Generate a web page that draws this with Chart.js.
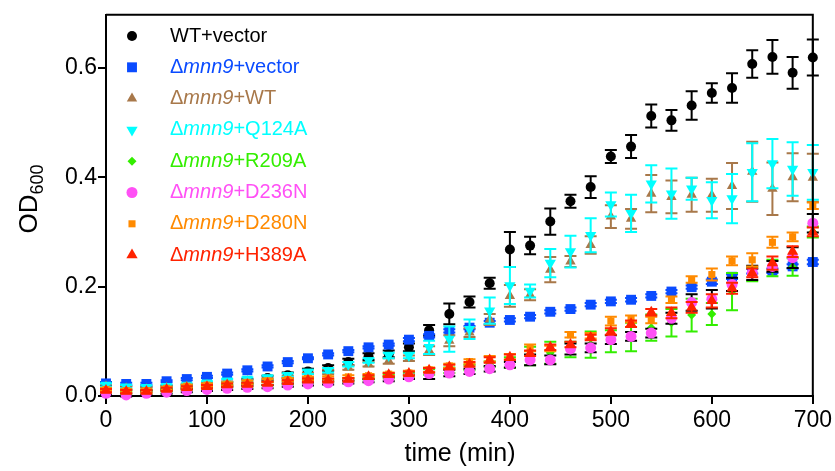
<!DOCTYPE html>
<html><head><meta charset="utf-8">
<script src="https://cdn.jsdelivr.net/npm/chart.js@4/dist/chart.umd.min.js"></script>
<style>html,body{margin:0;padding:0;background:#fff;}#wrap{width:835px;height:471px;position:relative}</style>
</head><body><div id="wrap"><canvas id="c" width="835" height="471"></canvas></div>
<script>
const timeMin = [0,20,40,60,80,100,120,140,160,180,200,220,240,260,280,300,320,340,360,380,400,420,440,460,480,500,520,540,560,580,600,620,640,660,680,700];
const xTicks = [0,100,200,300,400,500,600,700];
const yTicks = [0,0.2,0.4,0.6];
const seriesNames = ['WT+vector','Δmnn9+vector','Δmnn9+WT','Δmnn9+Q124A','Δmnn9+R209A','Δmnn9+D236N','Δmnn9+D280N','Δmnn9+H389A'];

const wtVector = [0.022,0.015,0.014,0.016,0.018,0.020,0.022,0.027,0.033,0.038,0.045,0.051,0.062,0.072,0.077,0.089,0.120,0.150,0.172,0.206,0.268,0.275,0.319,0.356,0.382,0.438,0.456,0.512,0.504,0.531,0.554,0.563,0.607,0.620,0.591,0.619];
const wtVectorErr = [0.003,0.003,0.003,0.003,0.003,0.003,0.004,0.004,0.004,0.005,0.005,0.005,0.006,0.006,0.006,0.007,0.010,0.019,0.010,0.010,0.032,0.016,0.024,0.012,0.020,0.012,0.021,0.021,0.019,0.026,0.018,0.027,0.025,0.031,0.029,0.033];

const mnn9Vector = [0.023,0.022,0.022,0.027,0.031,0.035,0.041,0.047,0.054,0.062,0.069,0.076,0.082,0.089,0.094,0.103,0.110,0.119,0.125,0.134,0.139,0.145,0.154,0.159,0.167,0.173,0.176,0.183,0.191,0.199,0.209,0.218,0.228,0.229,0.237,0.245];
const mnn9VectorErr = [0.002,0.002,0.002,0.002,0.002,0.002,0.002,0.002,0.002,0.002,0.002,0.002,0.002,0.002,0.002,0.003,0.003,0.003,0.003,0.003,0.003,0.003,0.003,0.003,0.003,0.003,0.003,0.003,0.003,0.003,0.004,0.004,0.004,0.004,0.004,0.004];

const mnn9WT = [0.018,0.014,0.013,0.015,0.017,0.020,0.023,0.027,0.030,0.034,0.039,0.044,0.052,0.058,0.064,0.069,0.083,0.101,0.116,0.140,0.183,0.185,0.231,0.246,0.276,0.328,0.324,0.370,0.364,0.368,0.367,0.384,0.410,0.379,0.400,0.399];
const mnn9WTErr = [0.003,0.003,0.003,0.003,0.003,0.003,0.003,0.003,0.003,0.003,0.004,0.004,0.004,0.004,0.005,0.005,0.008,0.010,0.008,0.010,0.020,0.010,0.023,0.010,0.016,0.021,0.018,0.034,0.030,0.031,0.030,0.042,0.055,0.048,0.044,0.044];

const mnn9Q124A = [0.020,0.017,0.016,0.018,0.020,0.024,0.028,0.031,0.034,0.038,0.044,0.047,0.058,0.065,0.074,0.074,0.089,0.104,0.122,0.156,0.202,0.192,0.243,0.264,0.294,0.350,0.334,0.388,0.370,0.379,0.358,0.361,0.409,0.425,0.415,0.409];
const mnn9Q124AErr = [0.003,0.003,0.003,0.003,0.003,0.003,0.003,0.003,0.003,0.003,0.004,0.004,0.004,0.004,0.005,0.005,0.012,0.023,0.018,0.024,0.034,0.012,0.026,0.029,0.031,0.022,0.034,0.034,0.046,0.020,0.033,0.045,0.053,0.045,0.049,0.050];

const mnn9R209A = [0.008,0.006,0.008,0.011,0.014,0.016,0.018,0.020,0.022,0.024,0.027,0.028,0.030,0.033,0.036,0.038,0.044,0.047,0.052,0.058,0.061,0.073,0.079,0.085,0.094,0.100,0.108,0.125,0.134,0.148,0.150,0.191,0.222,0.234,0.236,0.300];
const mnn9R209AErr = [0.003,0.003,0.003,0.003,0.003,0.003,0.003,0.003,0.003,0.003,0.003,0.003,0.003,0.003,0.004,0.005,0.005,0.005,0.005,0.005,0.010,0.017,0.020,0.014,0.024,0.020,0.026,0.024,0.025,0.030,0.020,0.034,0.012,0.015,0.016,0.010];

const mnn9D236N = [0.005,0.002,0.005,0.007,0.010,0.012,0.014,0.016,0.017,0.020,0.022,0.024,0.026,0.028,0.031,0.035,0.041,0.042,0.045,0.050,0.057,0.066,0.066,0.086,0.088,0.103,0.109,0.115,0.142,0.171,0.177,0.204,0.225,0.237,0.253,0.316];
const mnn9D236NErr = [0.003,0.003,0.003,0.003,0.003,0.003,0.003,0.003,0.003,0.003,0.003,0.003,0.003,0.003,0.004,0.004,0.010,0.006,0.005,0.005,0.005,0.010,0.008,0.010,0.008,0.008,0.008,0.008,0.010,0.015,0.017,0.012,0.013,0.010,0.019,0.017];

const mnn9D280N = [0.012,0.010,0.010,0.014,0.018,0.020,0.022,0.025,0.028,0.030,0.032,0.033,0.035,0.037,0.040,0.042,0.048,0.055,0.063,0.068,0.072,0.088,0.087,0.112,0.110,0.137,0.141,0.139,0.176,0.213,0.222,0.247,0.249,0.281,0.291,0.348];
const mnn9D280NErr = [0.003,0.003,0.003,0.003,0.003,0.003,0.003,0.003,0.003,0.003,0.003,0.003,0.003,0.003,0.003,0.004,0.004,0.004,0.004,0.005,0.005,0.006,0.005,0.005,0.005,0.008,0.006,0.006,0.006,0.006,0.011,0.008,0.012,0.010,0.008,0.006];

const mnn9H389A = [0.010,0.008,0.008,0.012,0.015,0.017,0.020,0.021,0.023,0.026,0.029,0.029,0.030,0.035,0.039,0.041,0.047,0.053,0.058,0.066,0.071,0.078,0.089,0.094,0.107,0.118,0.132,0.153,0.152,0.162,0.174,0.197,0.225,0.243,0.264,0.300];
const mnn9H389AErr = [0.003,0.003,0.003,0.003,0.003,0.003,0.003,0.003,0.003,0.003,0.003,0.003,0.003,0.003,0.003,0.004,0.004,0.004,0.004,0.005,0.005,0.005,0.005,0.005,0.005,0.006,0.006,0.006,0.010,0.010,0.012,0.010,0.008,0.012,0.010,0.008];

const seriesValues = [wtVector,mnn9Vector,mnn9WT,mnn9Q124A,mnn9R209A,mnn9D236N,mnn9D280N,mnn9H389A];
const seriesErrors = [wtVectorErr,mnn9VectorErr,mnn9WTErr,mnn9Q124AErr,mnn9R209AErr,mnn9D236NErr,mnn9D280NErr,mnn9H389AErr];
const colors = ['#000000','#0A4BFF','#A8784A','#00FFFF','#33EE00','#FF50F5','#FF8A00','#FF2200'];
const errColors = ['#000000','#0A4BFF','#A8784A','#00FFFF','#33EE00','#000000','#FF8A00','#FF2200'];
const styles = [
  {pointStyle:'circle',radius:5,rotation:0},
  {pointStyle:'rect',radius:7,rotation:0},
  {pointStyle:'triangle',radius:6,rotation:0},
  {pointStyle:'triangle',radius:6.5,rotation:180},
  {pointStyle:'rectRot',radius:4.5,rotation:0},
  {pointStyle:'circle',radius:5.5,rotation:0},
  {pointStyle:'rect',radius:5,rotation:0},
  {pointStyle:'triangle',radius:6.5,rotation:0}
];
const FONT = "'Liberation Sans', Arial, Helvetica, sans-serif";

const datasets = seriesValues.map((vals,i)=>({
  label: seriesNames[i],
  data: timeMin.map((t,j)=>({x:t,y:vals[j]})),
  errs: seriesErrors[i],
  errColor: errColors[i],
  backgroundColor: colors[i],
  borderColor: colors[i],
  pointBackgroundColor: colors[i],
  pointBorderWidth: 0,
  pointStyle: styles[i].pointStyle,
  pointRadius: styles[i].radius,
  pointRotation: styles[i].rotation,
  pointHoverRadius: styles[i].radius,
  showLine: false,
  clip: false,
  order: 7 - i
}));

const errorBars = {
  id:'errorBars',
  beforeDatasetDraw(chart, args){
    const ds = chart.data.datasets[args.index];
    const {ctx, scales:{x,y}} = chart;
    ctx.save();
    ctx.strokeStyle = ds.errColor; ctx.lineWidth = 2;
    ds.data.forEach((p,j)=>{
      const e = ds.errs[j];
      const px = x.getPixelForValue(p.x);
      const yt = y.getPixelForValue(p.y + e), yb = y.getPixelForValue(p.y - e);
      ctx.beginPath();
      ctx.moveTo(px, yt); ctx.lineTo(px, yb);
      ctx.moveTo(px-6, yt); ctx.lineTo(px+6, yt);
      ctx.moveTo(px-6, yb); ctx.lineTo(px+6, yb);
      ctx.stroke();
    });
    ctx.restore();
  }
};

const decor = {
  id:'decor',
  afterDraw(chart){
    const {ctx, chartArea:a} = chart;
    ctx.save();
    ctx.strokeStyle='#000'; ctx.lineWidth=2;
    ctx.beginPath();
    ctx.moveTo(a.left, a.top); ctx.lineTo(a.right, a.top); ctx.lineTo(a.right, a.bottom);
    ctx.stroke();
    const lx = 132, tx = 170, y0 = 36, dy = 31.3;
    chart.data.datasets.forEach((ds,i)=>{
      const yy = y0 + i*dy;
      ctx.fillStyle = colors[i];
      Chart.helpers.drawPoint(ctx, {pointStyle:styles[i].pointStyle, radius:styles[i].radius, rotation:styles[i].rotation, borderWidth:0}, lx, yy);
      ctx.textBaseline='middle'; ctx.textAlign='left';
      let parts;
      if (i===0) parts=[[ 'WT+vector', false ]];
      else { const rest = seriesNames[i].slice(5); parts=[['Δ',false],['mnn9',true],[rest,false]]; }
      let cx = tx;
      parts.forEach(([t,it])=>{
        ctx.font = (it?'italic ':'') + '20px ' + FONT;
        ctx.fillText(t, cx, yy);
        cx += ctx.measureText(t).width;
      });
    });
    ctx.fillStyle='#000';
    ctx.font='25px '+FONT; ctx.textAlign='center'; ctx.textBaseline='middle';
    ctx.fillText('time (min)', 460, 454);
    ctx.translate(28, 199); ctx.rotate(-Math.PI/2);
    ctx.font='26px '+FONT; const w1 = ctx.measureText('OD').width;
    ctx.font='18px '+FONT; const w2 = ctx.measureText('600').width;
    const start = -(w1+w2)/2;
    ctx.textAlign='left'; ctx.textBaseline='alphabetic';
    ctx.font='26px '+FONT; ctx.fillText('OD', start, 9);
    ctx.font='18px '+FONT; ctx.fillText('600', start+w1, 15);
    ctx.restore();
  }
};

new Chart(document.getElementById('c'), {
  type:'scatter',
  data:{datasets},
  options:{
    responsive:false, animation:false, devicePixelRatio:1,
    layout:{padding:{left:0,right:21,top:11,bottom:0}},
    plugins:{legend:{display:false}, tooltip:{enabled:false}, title:{display:false}},
    scales:{
      x:{type:'linear', min:0, max:700,
        afterBuildTicks: s => { s.ticks = xTicks.map(v=>({value:v})); },
        afterFit: s => { s.height = 75; },
        ticks:{color:'#000', font:{family:FONT, size:23}, padding:3, maxRotation:0, autoSkip:false},
        grid:{drawOnChartArea:false, drawTicks:true, tickLength:8, color:'#000', lineWidth:2},
        border:{display:true, color:'#000', width:2}
      },
      y:{type:'linear', min:0, max:0.697,
        afterBuildTicks: s => { s.ticks = yTicks.map(v=>({value:v})); },
        afterFit: s => { s.width = 106; },
        ticks:{color:'#000', font:{family:FONT, size:23}, padding:1, callback: v => Number(v).toFixed(1)},
        grid:{drawOnChartArea:false, drawTicks:true, tickLength:8, color:'#000', lineWidth:2},
        border:{display:true, color:'#000', width:2}
      }
    }
  },
  plugins:[errorBars, decor]
});
</script></body></html>
